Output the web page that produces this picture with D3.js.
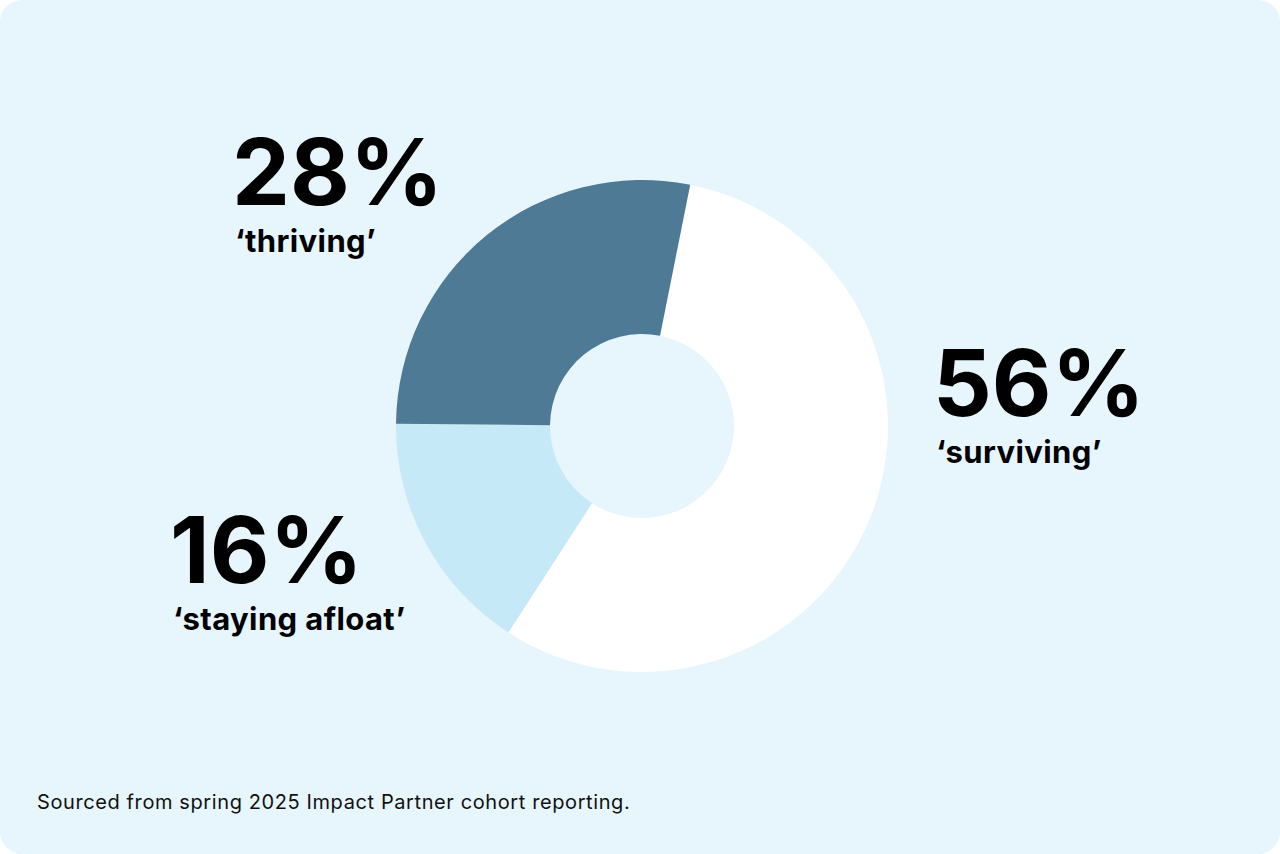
<!DOCTYPE html>
<html>
<head>
<meta charset="utf-8">
<script src="https://cdn.jsdelivr.net/npm/d3@7"></script>
<style>
  body { margin: 0; background: #ffffff; }
  svg { display: block; }
</style>
</head>
<body>
<svg id="chart" width="1280" height="854"></svg>
<script>
// data
const categories = ["surviving", "staying afloat", "thriving"];
const values = [56, 16, 28];
const colors = ["#ffffff", "#c6e9f8", "#4e7a96"];
// label positions per category (percent label anchor)
const labelPos = [
  { x: 933, y: 416 },
  { x: 170, y: 583 },
  { x: 232, y: 205 }
];

const svg = d3.select("#chart");
const bg = "#e7f5fd";

svg.append("rect")
  .attr("x", 0).attr("y", 0)
  .attr("width", 1280).attr("height", 854)
  .attr("rx", 22)
  .attr("fill", bg);

const cx = 642, cy = 426;
const outerR = 246, innerR = 92;
const start = 11.3 * Math.PI / 180;

const pie = d3.pie()
  .sort(null)
  .value(d => d)
  .startAngle(start)
  .endAngle(start + 2 * Math.PI);

const arc = d3.arc().innerRadius(innerR).outerRadius(outerR);

const g = svg.append("g").attr("transform", `translate(${cx},${cy})`);
g.selectAll("path")
  .data(pie(values))
  .enter()
  .append("path")
  .attr("d", arc)
  .attr("fill", (d, i) => colors[i]);

const labels = svg.selectAll("g.label")
  .data(categories)
  .enter()
  .append("g")
  .attr("class", "label")
  .attr("transform", (d, i) => `translate(${labelPos[i].x},${labelPos[i].y})`);

labels.append("text")
  .text((d, i) => values[i] + "%")
  .attr("font-family", "Inter, 'Noto Sans', sans-serif")
  .attr("font-weight", 700)
  .attr("font-size", 92)
  .attr("letter-spacing", 0)
  .attr("fill", "#000");

labels.append("text")
  .text(d => "\u2018" + d + "\u2019")
  .attr("y", 47)
  .attr("x", 3)
  .attr("font-family", "Inter, 'Noto Sans', sans-serif")
  .attr("font-weight", 700)
  .attr("font-size", 31)
  .attr("letter-spacing", 0.4)
  .attr("fill", "#000");

svg.append("text")
  .text("Sourced from spring 2025 Impact Partner cohort reporting.")
  .attr("x", 37).attr("y", 809)
  .attr("font-family", "Inter, 'Noto Sans', sans-serif")
  .attr("font-size", 20)
  .attr("letter-spacing", 0.6)
  .attr("fill", "#111");
</script>
</body>
</html>
